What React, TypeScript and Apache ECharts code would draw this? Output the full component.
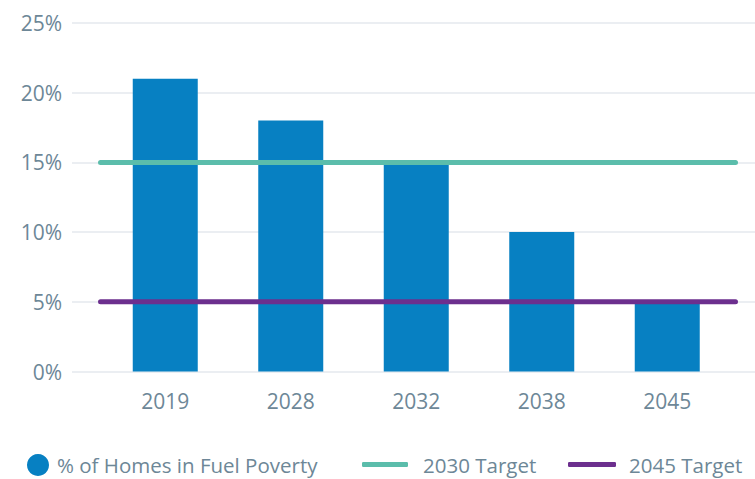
import React, { useEffect, useRef } from "react";
import * as echarts from "echarts";

const YEARS = ["2019", "2028", "2032", "2038", "2045"];
const FUEL_POVERTY = [21, 18, 15, 10, 5];
const TARGET_SPAN = ["start", "end"];
const TARGET_2030 = [15, 15];
const TARGET_2045 = [5, 5];
const Y_MIN = 0;
const Y_MAX = 25;
const Y_STEP = 5;

const TEXT = "#6d8797";
const FONT = "Open Sans";
const BLUE = "#0780c2";
const TEAL = "#5bbdab";
const PURPLE = "#6c2f8e";
const GRIDLINE = "#e5e8ee";

export default function App() {
  const ref = useRef<HTMLDivElement>(null);
  useEffect(() => {
    if (!ref.current) return;
    const chart = echarts.init(ref.current, null, { renderer: "svg" });
    const hiddenY = (gridIndex: number) => ({
      type: "value",
      gridIndex,
      min: Y_MIN,
      max: Y_MAX,
      interval: Y_STEP,
      show: false,
      splitLine: { show: false },
    });
    chart.setOption({
      animation: false,
      textStyle: { fontFamily: FONT },
      grid: [
        { left: 72, right: 0, top: 23, bottom: 107.5 },
        { left: 102.5, right: 25, top: 23, bottom: 107.5 },
        { left: 100.5, right: 19.5, top: 23, bottom: 107.5 },
      ],
      xAxis: [
        { type: "value", gridIndex: 0, show: false, min: 0, max: 1, splitLine: { show: false } },
        {
          type: "category",
          gridIndex: 1,
          data: YEARS,
          axisLine: { show: false },
          axisTick: { show: false },
          axisLabel: { color: TEXT, fontSize: 21, fontFamily: FONT, margin: 19 },
        },
        { type: "category", gridIndex: 2, data: TARGET_SPAN, boundaryGap: false, show: false },
      ],
      yAxis: [
        {
          type: "value",
          gridIndex: 0,
          min: Y_MIN,
          max: Y_MAX,
          interval: Y_STEP,
          axisLine: { show: false },
          axisTick: { show: false },
          axisLabel: {
            color: TEXT,
            fontSize: 21,
            fontFamily: FONT,
            margin: 10,
            formatter: "{value}%",
          },
          splitLine: { show: true, lineStyle: { color: GRIDLINE, width: 1.5 } },
        },
        hiddenY(1),
        hiddenY(2),
      ],
      legend: [
        {
          data: [{ name: "% of Homes in Fuel Poverty", icon: "circle" }],
          left: 22,
          top: 449,
          itemWidth: 22,
          itemHeight: 22,
          textStyle: { color: TEXT, fontSize: 20.5, fontFamily: FONT, padding: [0, 0, 0, 3] },
        },
        {
          data: [{ name: "2030 Target", icon: "roundRect" }],
          left: 357,
          top: 449,
          itemWidth: 46,
          itemHeight: 5,
          textStyle: { color: TEXT, fontSize: 20.5, fontFamily: FONT, padding: [0, 0, 0, 10] },
        },
        {
          data: [{ name: "2045 Target", icon: "roundRect" }],
          left: 563,
          top: 449,
          itemWidth: 48,
          itemHeight: 5,
          textStyle: { color: TEXT, fontSize: 20.5, fontFamily: FONT, padding: [0, 0, 0, 8] },
        },
      ],
      series: [
        {
          name: "% of Homes in Fuel Poverty",
          type: "bar",
          xAxisIndex: 1,
          yAxisIndex: 1,
          data: FUEL_POVERTY,
          barWidth: 65,
          color: BLUE,
          itemStyle: { color: BLUE },
        },
        {
          name: "2030 Target",
          type: "line",
          xAxisIndex: 2,
          yAxisIndex: 2,
          data: TARGET_2030,
          showSymbol: false,
          color: TEAL,
          lineStyle: { color: TEAL, width: 5, cap: "round" },
          z: 3,
        },
        {
          name: "2045 Target",
          type: "line",
          xAxisIndex: 2,
          yAxisIndex: 2,
          data: TARGET_2045,
          showSymbol: false,
          color: PURPLE,
          lineStyle: { color: PURPLE, width: 5, cap: "round" },
          z: 3,
        },
      ],
    });
    return () => chart.dispose();
  }, []);
  return <div ref={ref} style={{ width: 755, height: 479, position: "absolute", left: 0, top: 0 }} />;
}
